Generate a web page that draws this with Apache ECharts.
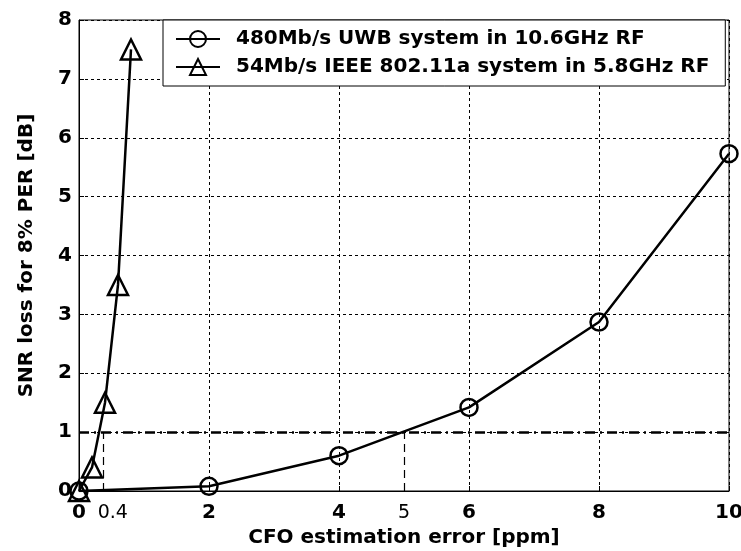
<!DOCTYPE html>
<html>
<head>
<meta charset="utf-8">
<script src="https://cdn.jsdelivr.net/npm/echarts@6/dist/echarts.min.js"></script>
<style>
  html, body { margin: 0; padding: 0; background: #fff; }
  #chart { width: 741px; height: 551px; }
</style>
</head>
<body>
<div id="chart"></div>
<script>
// data
var uwbX = [0, 2, 4, 6, 8, 10];
var uwbY = [0, 0.08, 0.6, 1.42, 2.87, 5.73];
var wlanX = [0, 0.2, 0.4, 0.6, 0.8];
var wlanY = [0, 0.4, 1.5, 3.5, 7.5];
var targetLoss = 1;            // 1 dB loss level
var crossX = [0.37, 5];        // where each curve reaches 1 dB
var crossLabels = ['0.4', '5'];
var crossLabelX = [0.52, 5];   // the 0.4 label sits a bit right of its line

var uwbName = '480Mb/s UWB system in 10.6GHz RF';
var wlanName = '54Mb/s IEEE 802.11a system in 5.8GHz RF';

function pairs(xs, ys) {
    return xs.map(function (x, i) { return [x, ys[i]]; });
}

var font = '"DejaVu Sans", Arial, sans-serif';
var boldText = { fontFamily: font, fontSize: 20, fontWeight: 'bold', color: '#000' };

var chart = echarts.init(document.getElementById('chart'));
var option = {
    animation: false,
    grid: {
        left: 79, right: 12, top: 20, bottom: 60,
        containLabel: false,
        outerBoundsMode: 'none',
        show: true, borderColor: '#000', borderWidth: 1
    },
    legend: {
        left: 163, top: 20,
        orient: 'vertical',
        backgroundColor: '#fff',
        borderColor: '#000', borderWidth: 1, borderRadius: 0,
        padding: [9, 16, 9, 12],
        itemGap: 8,
        itemWidth: 44, itemHeight: 20,
        formatter: function (name) { return ' ' + name; },
        textStyle: Object.assign({ padding: [0, 0, 0, 4] }, boldText),
        data: [uwbName, wlanName]
    },
    xAxis: {
        type: 'value', min: 0, max: 10, interval: 2,
        name: 'CFO estimation error [ppm]',
        nameLocation: 'middle', nameGap: 28,
        nameTextStyle: boldText,
        axisLine: { lineStyle: { color: '#000' } },
        axisTick: { inside: true, length: 5, lineStyle: { color: '#000' } },
        axisLabel: Object.assign({ margin: 12 }, boldText),
        splitLine: { lineStyle: { color: '#000', type: [3, 3], width: 1 } }
    },
    yAxis: {
        type: 'value', min: 0, max: 8, interval: 1,
        name: 'SNR loss for 8% PER [dB]',
        nameLocation: 'middle', nameGap: 42,
        nameTextStyle: boldText,
        axisLine: { lineStyle: { color: '#000' } },
        axisTick: { inside: true, length: 5, lineStyle: { color: '#000' } },
        axisLabel: Object.assign({ margin: 7 }, boldText),
        splitLine: { lineStyle: { color: '#000', type: [3, 3], width: 1 } }
    },
    series: [
        {
            name: uwbName,
            type: 'line',
            data: pairs(uwbX, uwbY),
            symbol: 'circle', symbolSize: 17,
            lineStyle: { color: '#000', width: 2.5 },
            itemStyle: { color: 'rgba(0,0,0,0)', borderColor: '#000', borderWidth: 2.5 },
            z: 3,
            markLine: {
                silent: true, symbol: 'none',
                lineStyle: { color: '#000', type: [10, 5, 2, 5], width: 2.5 },
                label: { show: false },
                data: [
                    [{ coord: [0, targetLoss] }, { coord: [10, targetLoss] }]
                ]
            }
        },
        {
            name: wlanName,
            type: 'line',
            data: pairs(wlanX, wlanY),
            symbol: 'triangle', symbolSize: 20,
            lineStyle: { color: '#000', width: 2.5 },
            itemStyle: { color: 'rgba(0,0,0,0)', borderColor: '#000', borderWidth: 2.5 },
            z: 3,
            markLine: {
                silent: true, symbol: 'none',
                lineStyle: { color: '#000', type: [8, 5], width: 1.2 },
                label: { show: false },
                data: crossX.map(function (x) {
                    return [{ coord: [x, 0] }, { coord: [x, targetLoss] }];
                })
            },
            markPoint: {
                silent: true,
                symbol: 'circle', symbolSize: 1,
                itemStyle: { color: 'rgba(0,0,0,0)' },
                label: {
                    show: true, position: 'bottom', distance: 12,
                    fontFamily: font, fontSize: 19, color: '#000',
                    formatter: function (p) { return crossLabels[p.dataIndex]; }
                },
                data: crossLabelX.map(function (x) {
                    return { coord: [x, 0] };
                })
            }
        }
    ]
};
chart.setOption(option);
</script>
</body>
</html>
